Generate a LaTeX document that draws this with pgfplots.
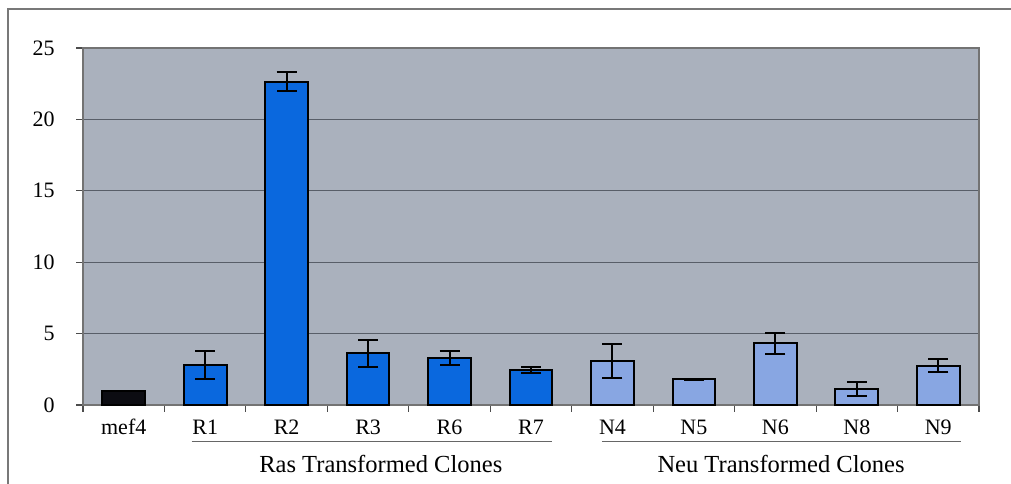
\documentclass[border=0pt]{standalone}
\usepackage{pgfplots}
\pgfplotsset{compat=1.18}
\usepackage{pgfplotstable}
\usepackage{fontspec}
\setmainfont{Liberation Serif}
\definecolor{bg}{RGB}{170,177,189}
\definecolor{rasblue}{RGB}{10,104,222}
\definecolor{neublue}{RGB}{136,166,226}
\definecolor{mefblack}{RGB}{12,12,18}
\definecolor{gridc}{RGB}{88,94,104}
\definecolor{framec}{RGB}{120,120,120}

\pgfplotstableread{
x y e
0 1.0 0
}\mefdata
\pgfplotstableread{
x y e
1 2.80 1.00
2 22.64 0.67
3 3.62 0.93
4 3.27 0.50
5 2.45 0.22
}\rasdata
\pgfplotstableread{
x y e
6 3.10 1.18
7 1.80 0.05
8 4.32 0.75
9 1.12 0.50
10 2.75 0.47
}\neudata

\begin{document}
\begin{tikzpicture}
\path[use as bounding box] (-62.25pt,-59.25pt) rectangle (696pt,303.75pt);
\draw[framec, line width=1.1pt] (-56.25pt,-60pt) -- (-56.25pt,297pt) -- (697pt,297pt);
\begin{axis}[
  at={(0,0)}, anchor=south west,
  scale only axis,
  width=672pt, height=267.75pt,
  xmin=-0.5, xmax=10.5,
  ymin=0, ymax=25,
  ytick={0,5,10,15,20,25},
  xtick={0,1,...,10},
  xticklabels={mef4,R1,R2,R3,R6,R7,N4,N5,N6,N8,N9},
  minor xtick={-0.5,0.5,...,10.5},
  every major x tick/.style={draw=none},
  tick pos=left,
  tick align=outside,
  major tick length=5.25pt,
  minor tick length=5.25pt,
  tick style={color=black!70, line width=0.8pt},
  ymajorgrids,
  grid style={color=gridc, line width=0.9pt},
  axis line style={color=black!55, line width=1pt},
  axis background/.style={fill=bg},
  /pgf/number format/assume math mode=true,
  ticklabel style={font=\fontsize{16.5}{18}\selectfont, inner sep=0pt},
  yticklabel style={anchor=east, xshift=-15.75pt},
  xticklabel style={anchor=base, yshift=-16.8pt},
  clip=false,
]
\addplot[ybar, bar shift=0pt, bar width=32pt, fill=mefblack, draw=black, line width=1.5pt]
  table[x=x, y=y] {\mefdata};
\addplot[ybar, bar shift=0pt, bar width=32pt, fill=rasblue, draw=black, line width=1.5pt,
  error bars/.cd, y dir=both, y explicit,
  error bar style={line width=1.5pt, black},
  error mark options={rotate=90, mark size=7.5pt, line width=1.5pt, black}]
  table[x=x, y=y, y error=e] {\rasdata};
\addplot[ybar, bar shift=0pt, bar width=32pt, fill=neublue, draw=black, line width=1.5pt,
  error bars/.cd, y dir=both, y explicit,
  error bar style={line width=1.5pt, black},
  error mark options={rotate=90, mark size=7.5pt, line width=1.5pt, black}]
  table[x=x, y=y, y error=e] {\neudata};
\draw[black!60, line width=1pt] (axis cs:0.835,-2.57) -- (axis cs:5.26,-2.57);
\draw[black!60, line width=1pt] (axis cs:5.87,-2.57) -- (axis cs:10.28,-2.57);
\node[anchor=base, inner sep=0pt, font=\fontsize{18.4}{20}\selectfont] at (axis cs:3.156,-4.76) {Ras Transformed Clones};
\node[anchor=base, inner sep=0pt, font=\fontsize{18.4}{20}\selectfont] at (axis cs:8.07,-4.76) {Neu Transformed Clones};
\end{axis}
\end{tikzpicture}
\end{document}
